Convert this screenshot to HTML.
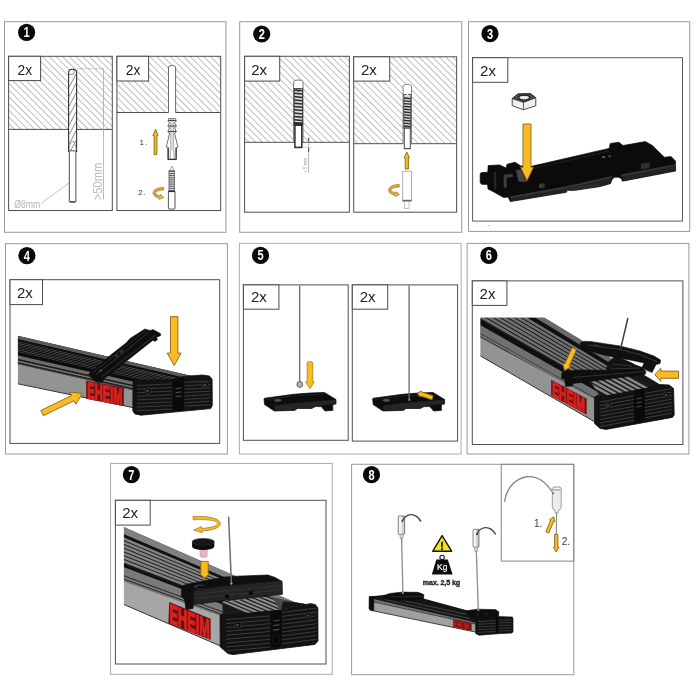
<!DOCTYPE html>
<html lang="en">
<head>
<meta charset="utf-8">
<title>EHEIM mounting instructions</title>
<style>
html,body{margin:0;padding:0;background:#fff;}
body{width:700px;height:700px;overflow:hidden;font-family:'Liberation Sans', sans-serif;}
svg{display:block;will-change:transform;}
svg text{font-family:'Liberation Sans', sans-serif;}
</style>
</head>
<body>
<svg width="700" height="700" viewBox="0 0 700 700">
<defs>
<pattern id="hatch" width="4.75" height="4.75" patternUnits="userSpaceOnUse" patternTransform="rotate(45)">
<line x1="0" y1="0" x2="4.75" y2="0" stroke="#696969" stroke-width="0.85"/>
</pattern>
</defs>
<rect width="700" height="700" fill="#fff"/>
<rect x="4.5" y="21.7" width="221.4" height="210.6" fill="none" stroke="#9a9a9a" stroke-width="1.0"/>
<rect x="239.7" y="21.7" width="222.0" height="210.6" fill="none" stroke="#9a9a9a" stroke-width="1.0"/>
<rect x="468.5" y="21.7" width="221.2" height="209.7" fill="none" stroke="#9a9a9a" stroke-width="1.0"/>
<rect x="5.5" y="243.7" width="221.9" height="210.3" fill="none" stroke="#9a9a9a" stroke-width="1.0"/>
<rect x="239.4" y="243.4" width="221.7" height="210.6" fill="none" stroke="#adadad" stroke-width="1.0"/>
<rect x="467.1" y="243.4" width="221.8" height="210.6" fill="none" stroke="#9a9a9a" stroke-width="1.0"/>
<rect x="110.6" y="463.4" width="221.6" height="210.9" fill="none" stroke="#a8a8a8" stroke-width="1.0"/>
<rect x="351.6" y="464.3" width="222.2" height="210.4" fill="none" stroke="#9a9a9a" stroke-width="1.0"/>
<circle cx="26.6" cy="32.3" r="8.6" fill="#0a0a0a"/>
<text transform="translate(26.60,37.30) scale(0.078,0.1)" font-size="142" font-weight="bold" text-anchor="middle" fill="#fff">1</text>
<circle cx="261.7" cy="34" r="8.6" fill="#0a0a0a"/>
<text transform="translate(261.70,39.00) scale(0.078,0.1)" font-size="142" font-weight="bold" text-anchor="middle" fill="#fff">2</text>
<circle cx="490" cy="33.7" r="8.6" fill="#0a0a0a"/>
<text transform="translate(490.00,38.70) scale(0.078,0.1)" font-size="142" font-weight="bold" text-anchor="middle" fill="#fff">3</text>
<circle cx="26.9" cy="255.7" r="8.6" fill="#0a0a0a"/>
<text transform="translate(26.90,260.70) scale(0.078,0.1)" font-size="142" font-weight="bold" text-anchor="middle" fill="#fff">4</text>
<circle cx="260.5" cy="255.4" r="8.6" fill="#0a0a0a"/>
<text transform="translate(260.50,260.40) scale(0.078,0.1)" font-size="142" font-weight="bold" text-anchor="middle" fill="#fff">5</text>
<circle cx="488.9" cy="255.4" r="8.6" fill="#0a0a0a"/>
<text transform="translate(488.90,260.40) scale(0.078,0.1)" font-size="142" font-weight="bold" text-anchor="middle" fill="#fff">6</text>
<circle cx="131.4" cy="474.6" r="8.6" fill="#0a0a0a"/>
<text transform="translate(131.40,479.60) scale(0.078,0.1)" font-size="142" font-weight="bold" text-anchor="middle" fill="#fff">7</text>
<circle cx="371.5" cy="474.7" r="8.6" fill="#0a0a0a"/>
<text transform="translate(371.50,479.70) scale(0.078,0.1)" font-size="142" font-weight="bold" text-anchor="middle" fill="#fff">8</text>
<rect x="8.6" y="56.3" width="103.7" height="73.1" fill="url(#hatch)"/>
<rect x="8.6" y="56.3" width="103.7" height="154.2" fill="none" stroke="#4f4f4f" stroke-width="1.0"/>
<line x1="8.6" y1="129.4" x2="112.3" y2="129.4" stroke="#4f4f4f" stroke-width="1" />
<rect x="8.6" y="56.3" width="32.0" height="24.3" fill="#fff" stroke="#4a4a4a" stroke-width="1"/>
<text transform="translate(24.8,74.8) scale(0.092,0.1)" font-size="150" text-anchor="middle" fill="#222">2x</text>
<rect x="116.9" y="56.3" width="103.8" height="56.2" fill="url(#hatch)"/>
<rect x="116.9" y="56.3" width="103.8" height="154.2" fill="none" stroke="#4f4f4f" stroke-width="1.0"/>
<line x1="116.9" y1="112.5" x2="220.7" y2="112.5" stroke="#4f4f4f" stroke-width="1" />
<rect x="116.9" y="56.3" width="31.7" height="24.7" fill="#fff" stroke="#4a4a4a" stroke-width="1"/>
<text transform="translate(133.1,74.8) scale(0.092,0.1)" font-size="150" text-anchor="middle" fill="#222">2x</text>
<rect x="244.6" y="56.3" width="104.8" height="86.0" fill="url(#hatch)"/>
<rect x="244.6" y="56.3" width="104.8" height="155.9" fill="none" stroke="#4f4f4f" stroke-width="1.0"/>
<line x1="244.6" y1="142.3" x2="349.4" y2="142.3" stroke="#4f4f4f" stroke-width="1" />
<rect x="244.6" y="56.3" width="35.1" height="24.8" fill="#fff" stroke="#4a4a4a" stroke-width="1"/>
<text transform="translate(259.2,74.8) scale(0.100,0.1)" font-size="150" text-anchor="middle" fill="#222">2x</text>
<rect x="353.7" y="56.8" width="102.9" height="86.9" fill="url(#hatch)"/>
<rect x="353.7" y="56.8" width="102.9" height="155.4" fill="none" stroke="#4f4f4f" stroke-width="1.0"/>
<line x1="353.7" y1="143.7" x2="456.6" y2="143.7" stroke="#4f4f4f" stroke-width="1" />
<rect x="353.7" y="56.8" width="36.0" height="24.3" fill="#fff" stroke="#4a4a4a" stroke-width="1"/>
<text transform="translate(368.9,75.0) scale(0.100,0.1)" font-size="150" text-anchor="middle" fill="#222">2x</text>
<rect x="472.6" y="57.7" width="209.9" height="163.4" fill="none" stroke="#5c5c5c" stroke-width="1.0"/>
<rect x="472.6" y="57.7" width="35.2" height="24.6" fill="#fff" stroke="#4a4a4a" stroke-width="1"/>
<text transform="translate(488.0,76.0) scale(0.100,0.1)" font-size="150" text-anchor="middle" fill="#222">2x</text>
<rect x="10" y="279.7" width="209.7" height="163.7" fill="none" stroke="#4f4f4f" stroke-width="1.0"/>
<rect x="10" y="279.7" width="32.5" height="24.9" fill="#fff" stroke="#4a4a4a" stroke-width="1"/>
<text transform="translate(24.9,297.7) scale(0.100,0.1)" font-size="150" text-anchor="middle" fill="#222">2x</text>
<rect x="243.4" y="284.9" width="104.8" height="155.4" fill="none" stroke="#4f4f4f" stroke-width="1.0"/>
<rect x="243.4" y="284.9" width="35.5" height="24.3" fill="#fff" stroke="#4a4a4a" stroke-width="1"/>
<text transform="translate(258.9,302.4) scale(0.100,0.1)" font-size="150" text-anchor="middle" fill="#222">2x</text>
<rect x="352.3" y="284.9" width="105.3" height="156.2" fill="none" stroke="#4f4f4f" stroke-width="1.0"/>
<rect x="352.3" y="284.9" width="35.4" height="24.3" fill="#fff" stroke="#4a4a4a" stroke-width="1"/>
<text transform="translate(367.7,302.4) scale(0.100,0.1)" font-size="150" text-anchor="middle" fill="#222">2x</text>
<rect x="472.3" y="280.9" width="210.6" height="163.6" fill="none" stroke="#4f4f4f" stroke-width="1.0"/>
<rect x="472.3" y="280.9" width="34.6" height="24.5" fill="#fff" stroke="#4a4a4a" stroke-width="1"/>
<text transform="translate(487.5,298.6) scale(0.100,0.1)" font-size="150" text-anchor="middle" fill="#222">2x</text>
<rect x="115.4" y="500.3" width="210.6" height="163.7" fill="none" stroke="#4f4f4f" stroke-width="1.0"/>
<rect x="115.4" y="500.3" width="34.8" height="24.8" fill="#fff" stroke="#4a4a4a" stroke-width="1"/>
<text transform="translate(130.2,518.3) scale(0.100,0.1)" font-size="150" text-anchor="middle" fill="#222">2x</text>
<rect x="501.2" y="464.3" width="72.6" height="96.8" fill="none" stroke="#848484" stroke-width="1.0"/>
<line x1="77.0" y1="68.6" x2="104.0" y2="68.6" stroke="#9a9a9a" stroke-width="0.7" stroke-dasharray="1.5 1.2"/>
<line x1="103.5" y1="68.6" x2="103.5" y2="199.6" stroke="#a8a8a8" stroke-width="0.8" />
<text transform="translate(102.2,200.2) rotate(-90) scale(0.093,0.1)" font-size="120" fill="#bababa">&gt;50mm</text>
<text transform="translate(14.2,208.3) scale(0.076,0.1)" font-size="115" fill="#b6b6b6">Ø8mm</text>
<line x1="41.2" y1="203.4" x2="69.2" y2="182.8" stroke="#a8a8a8" stroke-width="0.7" />
<path d="M68.6,151.5 L68.6,72.5 Q68.6,69.2 72.6,69.2 Q76.6,69.2 76.6,72.5 L76.6,151.5 Z" fill="#fff" stroke="#2e2e2e" stroke-width="1.1"/>
<path d="M69,74.3 L73.5,74.3 M73.6,69.6 Q75.2,72 73.4,74.5" fill="none" stroke="#444" stroke-width="0.6"/>
<path d="M69.2,87.0 L76,74.0 M69.2,96.5 L76,83.5 M69.2,106.0 L76,93.0 M69.2,115.5 L76,102.5 M69.2,125.0 L76,112.0 M69.2,134.5 L76,121.5 M69.2,144.0 L76,131.0 M69.2,153.5 L76,140.5" fill="none" stroke="#555" stroke-width="0.7"/>
<path d="M69.2,150 Q69.5,143 73,141 Q76.2,144 76.2,150 M70.5,151 Q72.5,155 74.8,151" fill="none" stroke="#777" stroke-width="0.7"/>
<rect x="69.3" y="150.8" width="6.6" height="51.3" rx="0.8" fill="#fff" stroke="#3a3a3a" stroke-width="0.9"/>
<line x1="69.8" y1="201.8" x2="75.4" y2="201.8" stroke="#333" stroke-width="1.0" />
<path d="M168.5,112.5 L168.5,67 Q168.5,65.6 172,65.6 Q175.6,65.6 175.6,67 L175.6,112.5" fill="#fff" stroke="#5a5a5a" stroke-width="0.9"/>
<line x1="168.9" y1="112.5" x2="175.2" y2="112.5" stroke="#fff" stroke-width="1.4" />
<path d="M168.6,118.6 L175.6,118.6 L176.2,121.4 L174.6,122.6 L176.4,126.4 L174.6,127.6 L176.4,131.8 L174.6,133 L175.4,137 L178,147 L176.4,147.4 L176.4,159.6 L167.8,159.6 L167.8,147.4 L166.2,147 L168.8,137 L169.6,133 L167.8,131.8 L169.6,127.6 L167.8,126.4 L169.6,122.6 L168,121.4 Z" fill="#fff" stroke="#4a4a4a" stroke-width="0.8" stroke-linejoin="round"/>
<path d="M170.9,119 L170.9,150 M173.2,119 L173.2,150 M170.2,150 L170.2,159 M174,150 L174,159" fill="none" stroke="#6a6a6a" stroke-width="0.7"/>
<path d="M168.3,147.5 L168.3,159.2 M176,147.5 L176,159.2 M168,159.4 L176.2,159.4" fill="none" stroke="#333" stroke-width="1.1"/>
<path d="M168,120.5 L176.2,120.5 M168,126 L176.2,126 M168,131.5 L176.2,131.5" fill="none" stroke="#444" stroke-width="1.2"/>
<path d="M171.8,166 L174,170.8 L169.6,170.8 Z" fill="#fff" stroke="#666" stroke-width="0.6"/>
<rect x="169" y="170.6" width="5.6" height="20.4" fill="#e8e8f0" stroke="#555" stroke-width="0.6"/>
<path d="M168.7,171.6 L174.9,171.6 M168.7,173.5 L174.9,173.5 M168.7,175.4 L174.9,175.4 M168.7,177.3 L174.9,177.3 M168.7,179.2 L174.9,179.2 M168.7,181.1 L174.9,181.1 M168.7,183.0 L174.9,183.0 M168.7,184.9 L174.9,184.9 M168.7,186.8 L174.9,186.8 M168.7,188.7 L174.9,188.7" fill="none" stroke="#4a4a52" stroke-width="0.9"/>
<rect x="168.4" y="191.2" width="6.6" height="17.8" rx="0.6" fill="#fff" stroke="#444" stroke-width="0.9"/>
<line x1="168.4" y1="191.3" x2="175.0" y2="191.3" stroke="#2a2a2a" stroke-width="1.6" />
<polygon points="154.1,154.6 156.9,154.6 156.9,135.7 158.1,135.7 155.5,129.2 152.9,135.7 154.1,135.7" fill="#f9bb22" stroke="#8a6516" stroke-width="0.9" stroke-linejoin="miter"/>
<text transform="translate(139.6,144.6) scale(0.1)" font-size="80" letter-spacing="9" fill="#333">1.</text>
<text transform="translate(138.2,194.6) scale(0.1)" font-size="80" letter-spacing="9" fill="#333">2.</text>
<g transform="translate(152.4,186.9) scale(1.0)"><path d="M11.2,0.5 C6,0.3 0.8,2.4 0.6,5.9 C0.5,8.7 3.6,10.5 7.1,11.3 L6.7,12.5 L11.3,10.7 L8.2,7.5 L7.8,8.9 C5.2,8.2 3.2,7.1 3.3,5.9 C3.5,4.3 7,3.1 11.3,3.1 Z" fill="#dca737" stroke="#8d6a1c" stroke-width="0.6" stroke-linejoin="round"/><path d="M6.9,9.6 L10,10.7 L7.2,11.5 Z" fill="#ecd23a"/></g>
<path d="M293.6,142.3 L293.6,81.5 Q293.6,80 298.3,80 Q303,80 303,81.5 L303,142.3" fill="#fff" stroke="#555" stroke-width="0.8"/>
<rect x="294.2" y="88.4" width="8.2" height="36.6" fill="#d8d8d8" stroke="#333" stroke-width="0.8"/>
<path d="M294.2,90.0 L302.4,90.8 M294.2,93.3 L302.4,94.1 M294.2,96.6 L302.4,97.4 M294.2,99.9 L302.4,100.7 M294.2,103.2 L302.4,104.0 M294.2,106.5 L302.4,107.3 M294.2,109.8 L302.4,110.6 M294.2,113.1 L302.4,113.9 M294.2,116.4 L302.4,117.2 M294.2,119.7 L302.4,120.5 M294.2,123.0 L302.4,123.8" fill="none" stroke="#2a2a2a" stroke-width="1.5"/>
<path d="M296.6,88.4 L298.3,92 L300,88.4" fill="none" stroke="#333" stroke-width="0.8"/>
<line x1="293.8" y1="123.5" x2="302.8" y2="123.5" stroke="#222" stroke-width="2.2" />
<rect x="294.9" y="125.2" width="6.9" height="22.2" fill="#fff" stroke="#2a2a2a" stroke-width="1.5"/>
<line x1="295.6" y1="147.6" x2="301.2" y2="147.6" stroke="#333" stroke-width="0.8" />
<line x1="308.6" y1="137.2" x2="308.6" y2="172.6" stroke="#9a9a9a" stroke-width="0.7" />
<line x1="302.4" y1="147.4" x2="311.5" y2="147.4" stroke="#bbb" stroke-width="0.6" />
<path d="M308.6,138 L308.6,141.5 M308.6,148 L308.6,152" stroke="#555" stroke-width="1.1" fill="none"/>
<text transform="translate(306.6,173) rotate(-90) scale(0.1)" font-size="46" fill="#9a9a9a">+ 5 mm</text>
<path d="M403.1,143.7 L403.1,86.5 Q403.1,84.4 407.3,84.4 Q411.5,84.4 411.5,86.5 L411.5,143.7" fill="#fff" stroke="#666" stroke-width="0.8"/>
<rect x="403.8" y="94.6" width="7" height="33.4" fill="#d0d0d0" stroke="#333" stroke-width="0.8"/>
<path d="M404,98.0 L410.6,98.6 M404,100.8 L410.6,101.4 M404,103.6 L410.6,104.2 M404,106.4 L410.6,107.0 M404,109.2 L410.6,109.8 M404,112.0 L410.6,112.6 M404,114.8 L410.6,115.4 M404,117.6 L410.6,118.2 M404,120.4 L410.6,121.0 M404,123.2 L410.6,123.8 M404,126.0 L410.6,126.6" fill="none" stroke="#2a2a2a" stroke-width="1.3"/>
<path d="M405.4,96.5 L407.3,94.2 L409.2,96.5" fill="none" stroke="#fff" stroke-width="1"/>
<rect x="404.3" y="128.2" width="6" height="20.4" fill="#fff" stroke="#4a4a4a" stroke-width="1.0"/>
<line x1="404.6" y1="148.7" x2="410.0" y2="148.7" stroke="#555" stroke-width="0.9" />
<polygon points="405.2,169.0 408.4,169.0 408.4,157.8 409.5,157.8 406.8,152.0 404.1,157.8 405.2,157.8" fill="#f9bb22" stroke="#8a6516" stroke-width="0.9" stroke-linejoin="miter"/>
<rect x="402.7" y="171.2" width="8.8" height="30.2" fill="#fff" stroke="#9a9a9a" stroke-width="0.8"/>
<line x1="402.7" y1="200.4" x2="411.5" y2="200.4" stroke="#666" stroke-width="1.2" />
<rect x="404.6" y="201.6" width="4.4" height="6.8" fill="#fff" stroke="#aaa" stroke-width="0.7"/>
<g transform="translate(388,184) scale(1.0)"><path d="M11.2,0.5 C6,0.3 0.8,2.4 0.6,5.9 C0.5,8.7 3.6,10.5 7.1,11.3 L6.7,12.5 L11.3,10.7 L8.2,7.5 L7.8,8.9 C5.2,8.2 3.2,7.1 3.3,5.9 C3.5,4.3 7,3.1 11.3,3.1 Z" fill="#dca737" stroke="#8d6a1c" stroke-width="0.6" stroke-linejoin="round"/><path d="M6.9,9.6 L10,10.7 L7.2,11.5 Z" fill="#ecd23a"/></g>
<g stroke-linejoin="round"><path d="M512.2,98.6 L512.2,105.6 L523.4,109.8 L535.8,105.8 L535.8,97.8 L530.4,93.6 L518,93.9 Z" fill="#f1eeee" stroke="#3a3a3a" stroke-width="0.9"/><path d="M512.2,98.6 L518,93.9 L530.4,93.6 L535.8,97.8 L523.6,102.4 Z" fill="#4a4a4a" stroke="#2e2e2e" stroke-width="0.8"/><ellipse cx="524.2" cy="97.6" rx="5.4" ry="2.4" fill="#e6e6e6" stroke="#1e1e1e" stroke-width="1.2"/><path d="M523.5,102.4 L523.4,109.6" stroke="#3a3a3a" stroke-width="0.8" fill="none"/></g>
<polygon points="480.2,173.6 481.6,172.6 487.8,172.2 488.2,165.6 499.6,164.9 506.2,168.0 507.0,164.3 515.0,162.2 520.8,165.9 531.5,166.3 609.1,148.4 610.3,143.5 618.9,142.3 623.1,145.5 645.4,141.6 652.3,145.4 664.3,157.2 671.1,156.6 675.4,160.9 675.6,171.0 622.6,181.2 621.2,178.6 618.5,177.2 614.5,177.2 612.0,179.4 610.6,183.6 600.0,186.6 576.0,190.2 569.0,190.4 567.6,189.8 566.4,192.3 510.4,201.6 508.0,197.0 503.6,197.5 494.4,192.3 488.0,189.0 487.6,184.6 481.4,184.2 480.2,182.6" fill="#0b0b0b" stroke="#0b0b0b" stroke-width="0.7" stroke-linejoin="round"/>
<polygon points="510.6,196.6 566.6,186.6 610.0,176.6 611.2,180.4 610.6,183.4 600.0,186.4 576.0,190.0 569.0,190.2 567.6,189.6 566.4,192.1 510.6,201.4" fill="#242223" stroke="none" stroke-width="0" />
<polygon points="510.6,196.2 566.6,186.2 612.0,176.0 612.0,177.8 566.6,188.2 510.6,198.2" fill="#383435" stroke="none" stroke-width="0" />
<polygon points="622.4,176.6 675.4,165.8 675.5,170.8 622.8,181.0" fill="#242223" stroke="none" stroke-width="0" />
<polygon points="621.0,174.6 675.4,164.2 675.4,166.0 621.6,176.8" fill="#383435" stroke="none" stroke-width="0" />
<polygon points="571.0,187.6 598.0,183.4 600.0,186.2 576.0,189.8 571.6,189.8" fill="#2d2b2c" stroke="none" stroke-width="0" />
<polygon points="503.6,174.8 512.7,173.8 512.9,177.0 506.6,177.8 506.8,187.4 503.8,187.8" fill="#3d3d3f" stroke="none" stroke-width="0" />
<polygon points="493.9,171.9 496.1,171.7 496.3,189.6 494.1,189.0" fill="#262626" stroke="none" stroke-width="0" />
<polygon points="516.0,170.2 520.7,169.4 526.6,182.0 518.4,181.6" fill="#47444c" stroke="none" stroke-width="0" />
<polygon points="539.0,183.9 544.7,183.0 544.7,187.6 539.0,188.6" fill="#3a3839" stroke="none" stroke-width="0" />
<polygon points="641.0,163.8 649.6,162.2 649.6,168.0 641.0,169.6" fill="#2f2f2f" stroke="none" stroke-width="0" />
<line x1="532.0" y1="168.8" x2="609.0" y2="151.2" stroke="#262626" stroke-width="0.8" />
<ellipse cx="603.6" cy="157" rx="1.9" ry="1.1" fill="#5e5e5e"/><ellipse cx="609.6" cy="156.2" rx="1.5" ry="1" fill="#4c4c4c"/>
<polygon points="523.0,124.0 531.0,124.0 531.0,167.2 533.5,167.2 527.0,180.8 520.5,167.2 523.0,167.2" fill="#f9bb22" stroke="#8a6516" stroke-width="0.9" stroke-linejoin="miter"/>
<circle cx="488.6" cy="225.6" r="0.5" fill="#888"/>
<polygon points="17.9,364.3 133.5,390.5 133.5,407.5 17.9,383.6" fill="#939393" stroke="none" stroke-width="0" />
<line x1="17.9" y1="383.8" x2="133.5" y2="407.7" stroke="#2a2a2a" stroke-width="1.0" />
<polygon points="17.9,335.7 192.0,376.1 192.0,399.8 133.5,390.5 17.9,364.3" fill="#141414" stroke="none" stroke-width="0" />
<clipPath id="c4"><polygon points="17.9,335.7 192.0,376.1 192.0,399.8 133.5,390.5 17.9,364.3"/></clipPath>
<g clip-path="url(#c4)">
<polygon points="17.9,335.7 192.0,376.1 192.0,379.5 17.9,339.2" fill="#5a5a5a" stroke="none" stroke-width="0" />
<polygon points="17.9,339.2 192.0,379.5 192.0,381.6 17.9,341.5" fill="#0e0e0e" stroke="none" stroke-width="0" />
<polygon points="17.9,341.5 192.0,381.6 192.0,382.4 17.9,342.3" fill="#4e4e4e" stroke="none" stroke-width="0" />
<polygon points="17.9,342.3 192.0,382.4 192.0,383.1 17.9,343.1" fill="#0c0c0c" stroke="none" stroke-width="0" />
<polygon points="17.9,343.1 192.0,383.1 192.0,383.9 17.9,343.9" fill="#4e4e4e" stroke="none" stroke-width="0" />
<polygon points="17.9,343.9 192.0,383.9 192.0,384.7 17.9,344.7" fill="#0c0c0c" stroke="none" stroke-width="0" />
<polygon points="17.9,344.7 192.0,384.7 192.0,385.4 17.9,345.5" fill="#4e4e4e" stroke="none" stroke-width="0" />
<polygon points="17.9,345.5 192.0,385.4 192.0,386.2 17.9,346.3" fill="#0c0c0c" stroke="none" stroke-width="0" />
<polygon points="17.9,346.3 192.0,386.2 192.0,387.0 17.9,347.1" fill="#4e4e4e" stroke="none" stroke-width="0" />
<polygon points="17.9,347.1 192.0,387.0 192.0,387.8 17.9,347.9" fill="#0c0c0c" stroke="none" stroke-width="0" />
<polygon points="17.9,347.9 192.0,387.8 192.0,388.5 17.9,348.8" fill="#4e4e4e" stroke="none" stroke-width="0" />
<polygon points="17.9,348.8 192.0,388.5 192.0,389.3 17.9,349.6" fill="#0c0c0c" stroke="none" stroke-width="0" />
<polygon points="17.9,349.6 192.0,389.3 192.0,390.1 17.9,350.4" fill="#4e4e4e" stroke="none" stroke-width="0" />
<polygon points="17.9,350.4 192.0,390.1 192.0,390.9 17.9,351.2" fill="#0c0c0c" stroke="none" stroke-width="0" />
<polygon points="17.9,351.2 192.0,390.9 192.0,391.6 17.9,352.0" fill="#4e4e4e" stroke="none" stroke-width="0" />
<polygon points="17.9,352.0 192.0,391.6 192.0,392.4 17.9,352.8" fill="#0c0c0c" stroke="none" stroke-width="0" />
<polygon points="17.9,352.8 192.0,392.4 192.0,394.9 17.9,355.4" fill="#0c0c0c" stroke="none" stroke-width="0" />
<polygon points="17.9,355.4 192.0,394.9 192.0,398.4 17.9,359.1" fill="#6c6c6c" stroke="none" stroke-width="0" />
<polygon points="17.9,359.1 192.0,398.4 192.0,399.7 17.9,360.4" fill="#1c1c1c" stroke="none" stroke-width="0" />
<polygon points="17.9,360.4 192.0,399.7 192.0,401.4 17.9,362.3" fill="#777" stroke="none" stroke-width="0" />
<polygon points="17.9,362.3 192.0,401.4 192.0,402.7 17.9,363.6" fill="#222" stroke="none" stroke-width="0" />
<polygon points="17.9,363.6 192.0,402.7 192.0,404.5 17.9,365.5" fill="#5a5a5a" stroke="none" stroke-width="0" />
</g>
<polygon points="86.2,380.4 123.8,387.8 123.8,405.9 86.2,398.8" fill="#5e1212" stroke="none" stroke-width="0" />
<g transform="matrix(0.0475,0.0095,0.0000,0.1,87.3,398.2)" font-size="234.0" font-weight="bold" stroke-linejoin="miter"><text fill="#d9221f" stroke="#d9221f" stroke-width="15.0">EHEIM</text></g>
<polygon points="133.0,382.0 136.0,380.6 172.9,379.4 183.6,376.4 202.1,375.0 209.5,376.0 212.1,379.4 212.3,405.4 210.7,408.6 141.0,415.2 135.0,414.0 132.8,411.0" fill="#121212" stroke="#121212" stroke-width="0.8" stroke-linejoin="round"/>
<path d="M137,385.5 L172,383.9 M184.5,382.4 L210.5,380.9 M137,389.1 L172,387.5 M184.5,385.8 L210.5,384.3 M137,392.7 L172,391.1 M184.5,389.2 L210.5,387.7 M137,396.3 L172,394.7 M184.5,392.6 L210.5,391.1 M137,399.9 L172,398.3 M184.5,396.0 L210.5,394.5 M137,403.5 L172,401.9 M184.5,399.4 L210.5,397.9 M137,407.1 L172,405.5 M184.5,402.8 L210.5,401.3 M137,410.7 L172,409.1 M184.5,406.2 L210.5,404.7" fill="none" stroke="#454545" stroke-width="0.8"/>
<polygon points="172.9,379.6 183.6,376.6 184.0,408.6 181.0,410.8 175.0,411.0 172.9,409.4" fill="#0a0a0a" stroke="none" stroke-width="0" />
<path d="M175.5,388.6 L181.5,388 M175.5,392.6 L181.5,392 M175.5,396.6 L181.5,396" stroke="#4a4a4a" stroke-width="1.1" fill="none"/>
<circle cx="147.9" cy="390.7" r="3" fill="#050505" stroke="#3c3c3c" stroke-width="0.8"/>
<circle cx="147.6" cy="390.9" r="1.4" fill="#4a4a4a"/>
<circle cx="205.4" cy="385" r="3" fill="#050505" stroke="#3c3c3c" stroke-width="0.8"/>
<circle cx="205.1" cy="385.2" r="1.4" fill="#4a4a4a"/>
<polygon points="88.5,374.0 110.6,355.0 126.0,343.0 130.0,338.5 144.8,329.0 150.0,330.4 153.0,329.6 160.4,333.4 160.8,335.4 156.6,337.4 157.4,340.0 154.6,341.4 153.0,340.2 104.5,378.6 102.0,382.6 96.4,382.0 91.4,378.0" fill="#0e0e0e" stroke="#0e0e0e" stroke-width="0.5" stroke-linejoin="round"/>
<path d="M96,374.6 L148.5,332.6 M101.5,377 L156,334.6" stroke="#3d3d3d" stroke-width="0.8" fill="none"/>
<path d="M93,372.4 L146,330.4" stroke="#2c2c2c" stroke-width="0.8" fill="none"/>
<circle cx="100.6" cy="370.6" r="1.6" fill="#3a3a3a"/><circle cx="121.6" cy="351.6" r="2.2" fill="#2e2e2e"/><circle cx="116.5" cy="355.5" r="1.8" fill="#2e2e2e"/>
<polygon points="170.5,316.6 177.9,316.6 177.9,353.1 181.2,353.1 174.2,365.5 167.2,353.1 170.5,353.1" fill="#f9bb22" stroke="#8a6516" stroke-width="0.9" stroke-linejoin="miter"/>
<polygon points="43.4,415.7 74.0,400.8 75.8,404.3 82.3,393.5 69.8,392.0 71.5,395.5 40.8,410.5" fill="#f9bb22" stroke="#8a6516" stroke-width="0.9" stroke-linejoin="miter"/>
<polygon points="264.0,398.9 264.6,398.2 293.6,394.3 309.0,393.1 324.4,392.4 336.0,399.5 336.0,404.0 332.8,404.6 332.8,410.4 325.0,411.0 321.2,406.6 315.4,406.6 311.6,408.5 297.4,408.5 294.8,410.4 274.3,411.0 264.6,404.6" fill="#0d0d0d" stroke="#0d0d0d" stroke-width="0.7" stroke-linejoin="round"/>
<polygon points="274.6,405.4 300.0,402.6 335.6,399.8 335.8,403.6 315.4,406.2 311.6,408.0 297.4,408.0 294.8,410.0 274.6,410.6" fill="#262425" stroke="none" stroke-width="0" />
<ellipse cx="277.8" cy="400.3" rx="3.6" ry="1.5" fill="#555" stroke="#222" stroke-width="0.5"/>
<path d="M266,399.6 L295,395.8 L324,394" stroke="#2a2a2a" stroke-width="0.7" fill="none"/>
<polygon points="372.6,398.9 373.2,398.2 402.2,394.3 417.6,393.1 433.0,392.4 444.6,399.5 444.6,404.0 441.4,404.6 441.4,410.4 433.6,411.0 429.8,406.6 424.0,406.6 420.2,408.5 406.0,408.5 403.4,410.4 382.9,411.0 373.2,404.6" fill="#0d0d0d" stroke="#0d0d0d" stroke-width="0.7" stroke-linejoin="round"/>
<polygon points="383.2,405.4 408.6,402.6 444.2,399.8 444.4,403.6 424.0,406.2 420.2,408.0 406.0,408.0 403.4,410.0 383.2,410.6" fill="#262425" stroke="none" stroke-width="0" />
<ellipse cx="386.4" cy="400.3" rx="3.6" ry="1.5" fill="#555" stroke="#222" stroke-width="0.5"/>
<path d="M374.6,399.6 L403.6,395.8 L432.6,394" stroke="#2a2a2a" stroke-width="0.7" fill="none"/>
<line x1="299.7" y1="285.4" x2="299.7" y2="382.4" stroke="#6a6a6a" stroke-width="1.3" />
<circle cx="299.8" cy="384.4" r="2.9" fill="#b5b5b5" stroke="#555" stroke-width="0.9"/>
<line x1="409.1" y1="285.4" x2="409.1" y2="399.6" stroke="#6a6a6a" stroke-width="1.3" />
<circle cx="409.2" cy="399.8" r="1.2" fill="#777"/>
<path d="M307.1,363 Q307.1,361.4 309.9,361.4 Q312.8,361.4 312.8,363 L312.8,381.9 L314.3,381.9 L310,388.8 L305.5,381.9 L307.1,381.9 Z" fill="#f9bb22" stroke="#8a6516" stroke-width="0.6"/>
<polygon points="433.2,395.8 421.5,392.0 421.8,391.0 417.4,392.9 419.8,397.1 420.2,396.0 432.0,399.8" fill="#f9bb22" stroke="#8a6516" stroke-width="0.9" stroke-linejoin="miter"/>
<polygon points="480.4,337.9 595.0,397.4 595.0,421.8 480.4,355.7" fill="#939393" stroke="none" stroke-width="0" />
<line x1="480.4" y1="355.9" x2="595.0" y2="422.0" stroke="#2a2a2a" stroke-width="1.0" />
<polygon points="480.4,317.7 544.6,317.7 662.0,389.0 640.0,392.0 595.0,399.0 480.4,337.9" fill="#4a4a4a" stroke="none" stroke-width="0" />
<clipPath id="c6"><polygon points="480.4,317.7 544.6,317.7 662.0,389.0 640.0,392.0 595.0,399.0 480.4,337.9"/></clipPath>
<g clip-path="url(#c6)">
<polygon points="480.4,278.5 662.0,389.3 662.0,394.4 480.4,284.6" fill="#6a6a6a" stroke="none" stroke-width="0" />
<polygon points="480.4,284.6 662.0,394.4 662.0,398.8 480.4,289.7" fill="#101010" stroke="none" stroke-width="0" />
<polygon points="480.4,289.7 662.0,398.8 662.0,401.3 480.4,292.8" fill="#707070" stroke="none" stroke-width="0" />
<polygon points="480.4,292.8 662.0,401.3 662.0,402.3 480.4,294.0" fill="#181818" stroke="none" stroke-width="0" />
<polygon points="480.4,294.0 662.0,402.3 662.0,404.9 480.4,297.0" fill="#707070" stroke="none" stroke-width="0" />
<polygon points="480.4,297.0 662.0,404.9 662.0,405.9 480.4,298.2" fill="#181818" stroke="none" stroke-width="0" />
<polygon points="480.4,298.2 662.0,405.9 662.0,408.5 480.4,301.3" fill="#707070" stroke="none" stroke-width="0" />
<polygon points="480.4,301.3 662.0,408.5 662.0,409.5 480.4,302.5" fill="#181818" stroke="none" stroke-width="0" />
<polygon points="480.4,302.5 662.0,409.5 662.0,412.1 480.4,305.5" fill="#707070" stroke="none" stroke-width="0" />
<polygon points="480.4,305.5 662.0,412.1 662.0,413.1 480.4,306.7" fill="#181818" stroke="none" stroke-width="0" />
<polygon points="480.4,306.7 662.0,413.1 662.0,415.7 480.4,309.7" fill="#707070" stroke="none" stroke-width="0" />
<polygon points="480.4,309.7 662.0,415.7 662.0,416.7 480.4,310.9" fill="#181818" stroke="none" stroke-width="0" />
<polygon points="480.4,310.9 662.0,416.7 662.0,419.2 480.4,314.0" fill="#707070" stroke="none" stroke-width="0" />
<polygon points="480.4,314.0 662.0,419.2 662.0,420.2 480.4,315.2" fill="#181818" stroke="none" stroke-width="0" />
<polygon points="480.4,315.2 662.0,420.2 662.0,422.8 480.4,318.2" fill="#707070" stroke="none" stroke-width="0" />
<polygon points="480.4,318.2 662.0,422.8 662.0,423.8 480.4,319.4" fill="#181818" stroke="none" stroke-width="0" />
<polygon points="480.4,319.4 662.0,423.8 662.0,428.7 480.4,325.2" fill="#0f0f0f" stroke="none" stroke-width="0" />
<polygon points="480.4,325.2 662.0,428.7 662.0,435.4 480.4,333.1" fill="#707070" stroke="none" stroke-width="0" />
<polygon points="480.4,333.1 662.0,435.4 662.0,436.4 480.4,334.3" fill="#444" stroke="none" stroke-width="0" />
<polygon points="480.4,334.3 662.0,436.4 662.0,437.8 480.4,335.9" fill="#7c7c7c" stroke="none" stroke-width="0" />
<polygon points="480.4,335.9 662.0,437.8 662.0,438.8 480.4,337.1" fill="#3a3a3a" stroke="none" stroke-width="0" />
<polygon points="480.4,337.1 662.0,438.8 662.0,442.9 480.4,342.0" fill="#727272" stroke="none" stroke-width="0" />
</g>
<polygon points="551.2,379.8 586.6,398.4 586.6,414.6 551.2,395.4" fill="#5e1212" stroke="none" stroke-width="0" />
<g transform="matrix(0.0505,0.0273,0.0000,0.1,552.2,395.2)" font-size="204.0" font-weight="bold" stroke-linejoin="miter"><text fill="#d9221f" stroke="#d9221f" stroke-width="15.0">EHEIM</text></g>
<polygon points="594.4,397.0 597.1,395.6 636.6,388.6 660.6,384.6 669.1,385.0 673.6,388.6 674.2,415.0 672.4,417.4 606.0,429.4 600.0,428.4 594.6,423.6" fill="#121212" stroke="#121212" stroke-width="0.8" stroke-linejoin="round"/>
<path d="M600,402.0 L634,395.8 M645,393.4 L672,388.6 M600,405.5 L634,399.3 M645,396.9 L672,392.1 M600,409.0 L634,402.8 M645,400.4 L672,395.6 M600,412.5 L634,406.3 M645,403.9 L672,399.1 M600,416.0 L634,409.8 M645,407.4 L672,402.6 M600,419.5 L634,413.3 M645,410.9 L672,406.1 M600,423.0 L634,416.8 M645,414.4 L672,409.6 M600,426.5 L634,420.3 M645,417.9 L672,413.1" fill="none" stroke="#474747" stroke-width="0.8"/>
<polygon points="634.0,389.4 644.3,387.6 644.6,418.8 642.0,421.4 636.0,422.4 634.0,420.6" fill="#0a0a0a" stroke="none" stroke-width="0" />
<path d="M636.5,399 L642,398 M636.5,403 L642,402 M636.5,407 L642,406" stroke="#4a4a4a" stroke-width="1.1" fill="none"/>
<circle cx="608.3" cy="405.2" r="2.8" fill="#050505" stroke="#3c3c3c" stroke-width="0.8"/>
<circle cx="608.0" cy="405.4" r="1.3" fill="#4a4a4a"/>
<circle cx="666.4" cy="394.8" r="2.8" fill="#050505" stroke="#3c3c3c" stroke-width="0.8"/>
<circle cx="666.1" cy="395.0" r="1.3" fill="#4a4a4a"/>
<clipPath id="c6b"><polygon points="590.0,380.6 640.0,372.6 661.0,385.0 640.0,389.0 600.0,396.6"/></clipPath>
<polygon points="590.0,380.6 640.0,372.6 661.0,385.0 640.0,389.0 600.0,396.6" fill="#1a1a1a" stroke="none" stroke-width="0" />
<line x1="575.0" y1="376.0" x2="615.0" y2="398.0" stroke="#8a8a8a" stroke-width="2.5" clip-path="url(#c6b)"/>
<line x1="583.2" y1="376.0" x2="623.2" y2="398.0" stroke="#8a8a8a" stroke-width="2.5" clip-path="url(#c6b)"/>
<line x1="591.4" y1="376.0" x2="631.4" y2="398.0" stroke="#8a8a8a" stroke-width="2.5" clip-path="url(#c6b)"/>
<line x1="599.6" y1="376.0" x2="639.6" y2="398.0" stroke="#8a8a8a" stroke-width="2.5" clip-path="url(#c6b)"/>
<line x1="607.8" y1="376.0" x2="647.8" y2="398.0" stroke="#8a8a8a" stroke-width="2.5" clip-path="url(#c6b)"/>
<line x1="616.0" y1="376.0" x2="656.0" y2="398.0" stroke="#8a8a8a" stroke-width="2.5" clip-path="url(#c6b)"/>
<line x1="624.2" y1="376.0" x2="664.2" y2="398.0" stroke="#8a8a8a" stroke-width="2.5" clip-path="url(#c6b)"/>
<polygon points="614.0,357.0 620.0,358.0 642.0,366.0 645.0,371.0 612.0,374.0 606.0,369.0 608.0,362.0" fill="#121212" stroke="none" stroke-width="0" />
<path d="M612,364 L632,366 M610,369 L640,368" stroke="#3a3a3a" stroke-width="0.8" fill="none"/>
<polygon points="627.0,359.8 640.0,360.6 644.0,362.8 642.0,367.0 635.0,364.4" fill="#fff" stroke="none" stroke-width="0" />
<polygon points="561.6,373.0 576.0,370.0 612.0,370.2 644.0,369.4 646.0,371.4 645.0,374.6 612.0,378.6 590.0,381.6 573.0,383.4 572.6,386.0 565.4,386.6 564.8,379.6 561.6,378.4" fill="#0e0e0e" stroke="#0e0e0e" stroke-width="0.6" stroke-linejoin="round"/>
<path d="M573,377.4 L612,374.2 L644,371.6" stroke="#3a3a3a" stroke-width="0.8" fill="none"/>
<polygon points="580.0,343.0 584.0,341.4 590.0,341.4 620.0,346.0 640.0,351.0 654.0,356.0 660.6,360.0 660.0,363.6 656.0,364.6 652.0,372.6 642.0,368.0 644.0,363.0 630.0,360.0 616.0,358.0 596.0,353.0 582.0,348.4" fill="#101010" stroke="#101010" stroke-width="0.6" stroke-linejoin="round"/>
<path d="M588,345 L620,349.4 L640,354.6 L657,361.6" stroke="#3d3d3d" stroke-width="0.9" fill="none"/>
<ellipse cx="596" cy="345.4" rx="3" ry="1.1" fill="#333"/>
<line x1="627.9" y1="318.0" x2="620.7" y2="348.4" stroke="#3c3c3c" stroke-width="1.5" />
<polygon points="572.1,347.6 564.8,364.0 562.7,363.1 564.4,370.6 571.1,366.8 569.1,365.9 576.5,349.6" fill="#f9bb22" stroke="#8a6516" stroke-width="0.9" stroke-linejoin="miter"/>
<polygon points="678.6,371.1 660.8,371.1 660.8,368.1 654.8,374.7 660.8,381.3 660.8,378.3 678.6,378.3" fill="#f9bb22" stroke="#8a6516" stroke-width="0.9" stroke-linejoin="miter"/>
<polygon points="123.9,581.4 220.5,615.7 220.5,645.8 123.9,604.3" fill="#a6a6a6" stroke="none" stroke-width="0" />
<line x1="123.9" y1="604.5" x2="220.5" y2="646.0" stroke="#2a2a2a" stroke-width="1.0" />
<polygon points="123.9,527.1 300.0,604.4 290.0,612.0 220.5,614.0 220.5,615.7 123.9,581.4" fill="#4a4a4a" stroke="none" stroke-width="0" />
<clipPath id="c7"><polygon points="123.9,527.1 300.0,604.4 290.0,612.0 220.5,614.0 220.5,615.7 123.9,581.4"/></clipPath>
<g clip-path="url(#c7)">
<polygon points="123.9,527.1 300.0,604.4 300.0,609.7 123.9,534.3" fill="#808080" stroke="none" stroke-width="0" />
<polygon points="123.9,534.3 300.0,609.7 300.0,612.1 123.9,537.6" fill="#111" stroke="none" stroke-width="0" />
<polygon points="123.9,537.6 300.0,612.1 300.0,614.1 123.9,540.3" fill="#828282" stroke="none" stroke-width="0" />
<polygon points="123.9,540.3 300.0,614.1 300.0,614.8 123.9,541.3" fill="#1c1c1c" stroke="none" stroke-width="0" />
<polygon points="123.9,541.3 300.0,614.8 300.0,616.8 123.9,544.0" fill="#828282" stroke="none" stroke-width="0" />
<polygon points="123.9,544.0 300.0,616.8 300.0,617.5 123.9,545.0" fill="#1c1c1c" stroke="none" stroke-width="0" />
<polygon points="123.9,545.0 300.0,617.5 300.0,619.6 123.9,547.8" fill="#828282" stroke="none" stroke-width="0" />
<polygon points="123.9,547.8 300.0,619.6 300.0,620.3 123.9,548.8" fill="#1c1c1c" stroke="none" stroke-width="0" />
<polygon points="123.9,548.8 300.0,620.3 300.0,622.3 123.9,551.5" fill="#828282" stroke="none" stroke-width="0" />
<polygon points="123.9,551.5 300.0,622.3 300.0,623.0 123.9,552.5" fill="#1c1c1c" stroke="none" stroke-width="0" />
<polygon points="123.9,552.5 300.0,623.0 300.0,625.0 123.9,555.2" fill="#828282" stroke="none" stroke-width="0" />
<polygon points="123.9,555.2 300.0,625.0 300.0,625.7 123.9,556.2" fill="#1c1c1c" stroke="none" stroke-width="0" />
<polygon points="123.9,556.2 300.0,625.7 300.0,627.8 123.9,559.0" fill="#828282" stroke="none" stroke-width="0" />
<polygon points="123.9,559.0 300.0,627.8 300.0,628.5 123.9,559.9" fill="#1c1c1c" stroke="none" stroke-width="0" />
<polygon points="123.9,559.9 300.0,628.5 300.0,630.5 123.9,562.7" fill="#828282" stroke="none" stroke-width="0" />
<polygon points="123.9,562.7 300.0,630.5 300.0,631.2 123.9,563.7" fill="#1c1c1c" stroke="none" stroke-width="0" />
<polygon points="123.9,563.7 300.0,631.2 300.0,633.9 123.9,567.3" fill="#111" stroke="none" stroke-width="0" />
<polygon points="123.9,567.3 300.0,633.9 300.0,639.8 123.9,575.3" fill="#7a7a7a" stroke="none" stroke-width="0" />
<polygon points="123.9,575.3 300.0,639.8 300.0,640.8 123.9,576.7" fill="#3a3a3a" stroke="none" stroke-width="0" />
<polygon points="123.9,576.7 300.0,640.8 300.0,642.0 123.9,578.4" fill="#858585" stroke="none" stroke-width="0" />
<polygon points="123.9,578.4 300.0,642.0 300.0,643.0 123.9,579.8" fill="#333" stroke="none" stroke-width="0" />
<polygon points="123.9,579.8 300.0,643.0 300.0,645.6 123.9,583.4" fill="#787878" stroke="none" stroke-width="0" />
</g>
<polygon points="169.2,602.0 210.6,618.8 210.6,639.8 168.4,623.6" fill="#5e1212" stroke="none" stroke-width="0" />
<g transform="matrix(0.0470,0.0193,0.0000,0.1,169.6,622.6)" font-size="270" font-weight="bold" stroke-linejoin="miter"><text fill="#d9221f" stroke="#d9221f" stroke-width="15.0">EHEIM</text></g>
<polygon points="220.0,615.0 223.0,613.6 279.3,610.0 292.0,607.0 310.7,603.6 315.4,604.6 317.9,608.0 318.0,641.0 315.0,644.4 233.0,654.6 228.0,653.6 220.2,647.0" fill="#121212" stroke="#121212" stroke-width="0.8" stroke-linejoin="round"/>
<path d="M226,619.7 L270,615.9 M282,612.5 L316.5,608.1" fill="none" stroke="#454545" stroke-width="0.8"/>
<path d="M226,623.6 L270,619.8 M282,616.4 L316.5,612.0" fill="none" stroke="#454545" stroke-width="0.8"/>
<path d="M226,627.5 L270,623.7 M282,620.3 L316.5,615.9" fill="none" stroke="#454545" stroke-width="0.8"/>
<path d="M226,631.4 L270,627.6 M282,624.2 L316.5,619.8" fill="none" stroke="#454545" stroke-width="0.8"/>
<path d="M226,635.3 L270,631.5 M282,628.1 L316.5,623.7" fill="none" stroke="#454545" stroke-width="0.8"/>
<path d="M226,639.2 L270,635.4 M282,632.0 L316.5,627.6" fill="none" stroke="#454545" stroke-width="0.8"/>
<path d="M226,643.1 L270,639.3 M282,635.9 L316.5,631.5" fill="none" stroke="#454545" stroke-width="0.8"/>
<path d="M226,647.0 L270,643.2 M282,639.8 L316.5,635.4" fill="none" stroke="#454545" stroke-width="0.8"/>
<path d="M226,650.9 L270,647.1 M282,643.7 L316.5,639.3" fill="none" stroke="#454545" stroke-width="0.8"/>
<polygon points="270.7,610.6 281.4,609.4 281.8,643.0 279.0,646.6 273.0,647.4 270.7,645.0" fill="#0a0a0a" stroke="none" stroke-width="0" />
<path d="M273,621 L279.4,620.2 M273,625.6 L279.4,624.8 M273,630.2 L279.4,629.4" stroke="#4a4a4a" stroke-width="1.2" fill="none"/>
<ellipse cx="276.2" cy="639.4" rx="3" ry="4.4" fill="#050505" stroke="#2a2a2a" stroke-width="0.6"/>
<circle cx="237.9" cy="625" r="3.1" fill="#050505" stroke="#3c3c3c" stroke-width="0.8"/>
<circle cx="237.6" cy="625.2" r="1.4" fill="#4a4a4a"/>
<circle cx="308.6" cy="615.6" r="3.1" fill="#050505" stroke="#3c3c3c" stroke-width="0.8"/>
<circle cx="308.3" cy="615.8000000000001" r="1.4" fill="#4a4a4a"/>
<clipPath id="c7b"><polygon points="222.0,601.8 258.0,597.6 271.0,596.4 282.0,602.6 279.6,609.8 223.0,614.8"/></clipPath>
<polygon points="222.0,601.8 258.0,597.6 271.0,596.4 282.0,602.6 279.6,609.8 223.0,614.8" fill="#1a1a1a" stroke="none" stroke-width="0" />
<line x1="205.0" y1="594.0" x2="255.0" y2="615.0" stroke="#8c8c8c" stroke-width="2.1" clip-path="url(#c7b)"/>
<line x1="213.6" y1="594.0" x2="263.6" y2="615.0" stroke="#8c8c8c" stroke-width="2.1" clip-path="url(#c7b)"/>
<line x1="222.2" y1="594.0" x2="272.2" y2="615.0" stroke="#8c8c8c" stroke-width="2.1" clip-path="url(#c7b)"/>
<line x1="230.8" y1="594.0" x2="280.8" y2="615.0" stroke="#8c8c8c" stroke-width="2.1" clip-path="url(#c7b)"/>
<line x1="239.4" y1="594.0" x2="289.4" y2="615.0" stroke="#8c8c8c" stroke-width="2.1" clip-path="url(#c7b)"/>
<line x1="248.0" y1="594.0" x2="298.0" y2="615.0" stroke="#8c8c8c" stroke-width="2.1" clip-path="url(#c7b)"/>
<line x1="256.6" y1="594.0" x2="306.6" y2="615.0" stroke="#8c8c8c" stroke-width="2.1" clip-path="url(#c7b)"/>
<line x1="265.2" y1="594.0" x2="315.2" y2="615.0" stroke="#8c8c8c" stroke-width="2.1" clip-path="url(#c7b)"/>
<polygon points="270.7,596.4 296.4,602.6 316.4,605.8 310.7,603.8 292.0,607.2 279.3,610.2 276.0,603.0" fill="#4a4a4a" stroke="none" stroke-width="0" />
<polygon points="283.0,601.6 296.4,602.6 316.4,605.8 310.7,603.8 292.0,607.2 281.0,609.6" fill="#151515" stroke="none" stroke-width="0" />
<polygon points="181.6,586.6 186.0,584.4 225.0,577.0 237.1,576.2 267.9,575.0 275.0,577.4 282.1,581.4 282.4,594.3 225.0,600.4 193.4,604.6 193.0,608.6 186.0,609.4 184.6,599.4 181.4,596.6" fill="#0f0f0f" stroke="#0f0f0f" stroke-width="0.7" stroke-linejoin="round"/>
<polygon points="193.6,590.6 225.0,586.0 282.0,580.8 282.2,594.0 225.0,600.0 193.8,604.2" fill="#242424" stroke="none" stroke-width="0" />
<path d="M194,594 L282,585.4 M194,598.4 L282,589.8" stroke="#3a3a3a" stroke-width="0.7" fill="none"/>
<ellipse cx="200" cy="586.6" rx="6" ry="2" fill="#3c3c3c"/><ellipse cx="201" cy="587" rx="4.4" ry="1.3" fill="#0a0a0a"/>
<circle cx="227" cy="596.4" r="2" fill="#050505"/><circle cx="250.7" cy="592.9" r="2" fill="#050505"/>
<line x1="228.6" y1="516.6" x2="231.4" y2="583.4" stroke="#6e6e6e" stroke-width="1.5" />
<circle cx="231.4" cy="583.6" r="1.2" fill="#999"/>
<rect x="200" y="547" width="7.2" height="10.2" rx="1" fill="#e9b4bd" stroke="#c48a96" stroke-width="0.5"/>
<path d="M192.1,541.8 L192.1,546.4 A11.1,3.6 0 0 0 214.3,546.4 L214.3,541.8 Z" fill="#0c0c0c"/>
<ellipse cx="203.2" cy="541.8" rx="11.1" ry="3.4" fill="#161616" stroke="#2e2e2e" stroke-width="0.6"/>
<polygon points="200.8,561.4 208.2,561.4 208.2,573.4 209.8,573.4 204.5,578.0 199.2,573.4 200.8,573.4" fill="#f9bb22" stroke="#8a6516" stroke-width="0.9" stroke-linejoin="miter"/>
<path d="M193,516.6 C203,515.6 220.6,517.6 220.4,523.6 C220.2,528.6 210,530.6 202,531 L202,532.8 L193.6,530 L201.6,526.6 L201.8,528.4 C209,528 217.4,526.4 217.6,523.6 C217.8,520.4 205,519 193.2,519.8 Z" fill="#f9bb22" stroke="#8a6516" stroke-width="0.6" stroke-linejoin="round"/>
<line x1="401.6" y1="538.0" x2="402.9" y2="593.0" stroke="#8c8c8c" stroke-width="1.3" />
<line x1="476.3" y1="551.0" x2="478.3" y2="610.0" stroke="#8c8c8c" stroke-width="1.3" />
<rect x="398.3" y="516" width="6.3" height="18.3" rx="0.8" fill="#d4d4d4" stroke="#555" stroke-width="0.8"/>
<path d="M399.84999999999997,534.3 L400.45,538.6999999999999 L402.65,538.6999999999999 L403.25,534.3 Z" fill="#ddd" stroke="#777" stroke-width="0.6"/>
<rect x="398.8" y="516.5" width="2.8" height="17.3" fill="#f2f2f2"/>
<circle cx="402.4" cy="521" r="1" fill="#333"/>
<rect x="473.1" y="529.3" width="5.8" height="17.8" rx="0.8" fill="#d4d4d4" stroke="#555" stroke-width="0.8"/>
<path d="M474.4,547.0999999999999 L475.0,551.4999999999999 L477.2,551.4999999999999 L477.8,547.0999999999999 Z" fill="#ddd" stroke="#777" stroke-width="0.6"/>
<rect x="473.6" y="529.8" width="2.6" height="16.8" fill="#f2f2f2"/>
<circle cx="476.9" cy="534.3" r="1" fill="#333"/>
<path d="M402.6,520.6 C404.4,515.6 410,513.4 414.6,515.4 C417.6,516.6 419.6,519 420.9,521.6" fill="none" stroke="#444" stroke-width="1.3"/>
<path d="M477,534 C478.6,528.6 484.6,526.6 489.4,528.4 C492.4,529.6 494.4,532 495.6,534.4" fill="none" stroke="#444" stroke-width="1.3"/>
<path d="M442.1,535.6 L451.6,551.2 L432.8,551.2 Z" fill="#f6e11d" stroke="#141414" stroke-width="1.4" stroke-linejoin="round"/>
<text transform="translate(442.1,549.8) scale(0.1)" font-size="105" font-weight="bold" text-anchor="middle" fill="#141414" stroke="#141414" stroke-width="4">!</text>
<circle cx="442.1" cy="557.4" r="2.2" fill="none" stroke="#1a1a1a" stroke-width="1.1"/>
<path d="M436.4,559.4 L447.8,559.4 L452.6,574.4 L431.8,574.4 Z" fill="#0d0d0d"/>
<text transform="translate(442.2,570.2) scale(0.1)" font-size="84" text-anchor="middle" fill="#fff" stroke="#fff" stroke-width="2">Kg</text>
<text transform="translate(422.8,585) scale(0.1)" font-size="72" font-weight="bold" fill="#1c1c1c" stroke="#1c1c1c" stroke-width="3" textLength="374" lengthAdjust="spacing">max. 2,5 kg</text>
<polygon points="373.6,602.1 475.4,624.2 475.4,631.8 373.6,610.7" fill="#a0a0a0" stroke="none" stroke-width="0" />
<line x1="373.6" y1="610.9" x2="475.4" y2="632.0" stroke="#2a2a2a" stroke-width="0.9" />
<polygon points="369.3,596.4 402.9,592.9 423.6,598.4 465.7,610.0 478.0,612.0 475.4,624.2 373.6,602.1 369.3,602.0" fill="#151515" stroke="none" stroke-width="0" />
<path d="M385,599.6 L470,618.6 M392,598 L472,615.6" stroke="#555" stroke-width="0.7" fill="none"/>
<path d="M376,601.4 L472,621.8" stroke="#444" stroke-width="0.9" fill="none"/>
<polygon points="373.6,598.9 475.4,622.7 475.4,624.2 373.6,602.1" fill="#6e6e6e" stroke="none" stroke-width="0" />
<line x1="373.6" y1="602.1" x2="475.4" y2="624.2" stroke="#333" stroke-width="0.6" />
<polygon points="369.3,596.4 373.8,597.0 373.8,611.0 370.4,610.4 369.0,608.6" fill="#0c0c0c" stroke="#0c0c0c" stroke-width="0.6" />
<polygon points="383.0,596.0 390.0,593.4 402.9,592.1 418.0,592.3 423.8,594.6 423.6,598.8 410.0,600.6 396.0,600.0 386.0,598.6" fill="#0e0e0e" stroke="#0e0e0e" stroke-width="0.6" stroke-linejoin="round"/>
<path d="M390,596.8 L422,596.4" stroke="#333" stroke-width="0.7" fill="none"/>
<polygon points="453.2,619.2 471.6,623.0 471.6,630.8 453.2,627.2" fill="#7a1616" stroke="none" stroke-width="0" />
<text transform="matrix(0.046,0.0092,0,0.1,453.6,627.2)" font-size="104" font-weight="bold" fill="#d62424" stroke="#3a0a0a" stroke-width="5" paint-order="stroke">EHEIM</text>
<polygon points="475.6,618.4 497.1,616.6 512.4,617.0 513.0,619.0 513.0,632.0 511.6,633.0 497.1,633.8 479.0,635.2 475.6,633.4" fill="#111" stroke="#111" stroke-width="0.7" stroke-linejoin="round"/>
<path d="M478,621.6 L495.6,620.7 M498.6,620.2 L511.6,619.8" stroke="#4a4a4a" stroke-width="0.7" fill="none"/>
<path d="M478,624.3 L495.6,623.4 M498.6,622.9 L511.6,622.5" stroke="#4a4a4a" stroke-width="0.7" fill="none"/>
<path d="M478,627.0 L495.6,626.1 M498.6,625.6 L511.6,625.2" stroke="#4a4a4a" stroke-width="0.7" fill="none"/>
<path d="M478,629.7 L495.6,628.8 M498.6,628.3 L511.6,627.9" stroke="#4a4a4a" stroke-width="0.7" fill="none"/>
<path d="M478,632.4 L495.6,631.5 M498.6,631.0 L511.6,630.6" stroke="#4a4a4a" stroke-width="0.7" fill="none"/>
<line x1="497.1" y1="617.0" x2="497.1" y2="633.6" stroke="#050505" stroke-width="1.4" />
<polygon points="465.9,611.6 470.0,610.2 477.1,609.2 495.7,609.6 498.9,612.1 498.6,616.4 490.0,618.0 476.0,618.8 468.0,616.0" fill="#0e0e0e" stroke="#0e0e0e" stroke-width="0.6" stroke-linejoin="round"/>
<circle cx="477.6" cy="614.8" r="0.9" fill="#333"/><circle cx="486" cy="614" r="0.9" fill="#333"/>
<circle cx="402.9" cy="592.9" r="1" fill="#aaa"/><circle cx="478.3" cy="610" r="1" fill="#aaa"/>
<path d="M504.6,501.8 C506,490 514,478.6 527,476.8 C538,475.4 546,482.6 552,491.6" fill="none" stroke="#8a8a8a" stroke-width="1.4"/>
<path d="M552.3,488.4 L552.3,507 Q552.3,509.2 554.7,510 L555.2,512.9 L558.2,512.9 L558.7,510 Q561.2,509.2 561.2,507 L561.2,488.4 Z" fill="#ececec" stroke="#8a8a8a" stroke-width="0.8"/>
<ellipse cx="556.75" cy="488.4" rx="4.45" ry="1.6" fill="#f6f6f6" stroke="#777" stroke-width="0.8"/>
<circle cx="553.2" cy="493.2" r="1" fill="#666"/>
<line x1="556.6" y1="513.0" x2="556.3" y2="534.4" stroke="#8a8a8a" stroke-width="1.2" />
<polygon points="548.8,533.0 553.6,521.5 554.7,521.9 553.8,516.8 549.5,519.8 550.6,520.2 545.8,531.8" fill="#f9bb22" stroke="#8a6516" stroke-width="0.9" stroke-linejoin="miter"/>
<polygon points="554.6,534.4 557.9,534.4 557.9,547.2 559.1,547.2 556.2,552.0 553.3,547.2 554.6,547.2" fill="#f9bb22" stroke="#8a6516" stroke-width="0.9" stroke-linejoin="miter"/>
<text transform="translate(533.9,527.3) scale(0.1)" font-size="100" fill="#3a3a3a">1.</text>
<text transform="translate(561.7,544.5) scale(0.1)" font-size="102" fill="#3a3a3a">2.</text>
</svg>
</body>
</html>
